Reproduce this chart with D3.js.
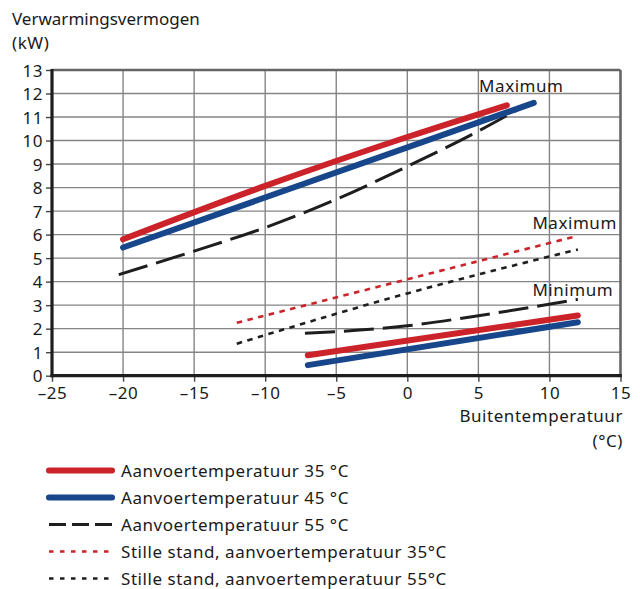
<!DOCTYPE html>
<html>
<head>
<meta charset="utf-8">
<script src="https://cdn.jsdelivr.net/npm/d3@7"></script>
<style>
  html, body { margin: 0; padding: 0; background: #fff; }
  svg text { font-family: "Noto Sans", sans-serif; fill: #1a1a1a; letter-spacing: 0.55px; }
</style>
</head>
<body>
<svg id="chart" width="640" height="589"></svg>
<script>
// ---- data ----
const xTicks = [-25, -20, -15, -10, -5, 0, 5, 10, 15];
const yTicks = [0,1,2,3,4,5,6,7,8,9,10,11,12,13];

const seriesNames = [
  "Aanvoertemperatuur 35 °C",
  "Aanvoertemperatuur 45 °C",
  "Aanvoertemperatuur 55 °C",
  "Stille stand, aanvoertemperatuur 35°C",
  "Stille stand, aanvoertemperatuur 55°C"
];

// maximum curves
const max35 = [[-20, 5.8], [-10, 8.07], [0, 10.15], [7, 11.5]];
const max45 = [[-20, 5.45], [8.9, 11.6]];
const max55 = [[-20.3, 4.3], [-15, 5.3], [-10, 6.3], [-5, 7.5], [0, 8.9], [5, 10.4], [8.3, 11.5]];
// minimum curves
const min35 = [[-7, 0.87], [12, 2.56]];
const min45 = [[-7, 0.45], [12, 2.27]];
const min55 = [[-7.2, 1.8], [0, 2.12], [5, 2.55], [12, 3.25]];
// quiet mode maximum
const quiet35 = [[-12, 2.25], [12, 5.95]];
const quiet55 = [[-12, 1.36], [0, 3.5], [12, 5.37]];

const annotations = [
  {text: "Maximum", x: 5.05, y: 12.08},
  {text: "Maximum", x: 8.8, y: 6.25},
  {text: "Minimum", x: 8.8, y: 3.4}
];

// ---- styles ----
const RED = "#cc2229", BLUE = "#17468a", BLACK = "#1e1e1e";
const FS = "17px";
const styles = [
  {color: RED,   width: 6,   dash: null,   cap: "round"},
  {color: BLUE,  width: 6,   dash: null,   cap: "round"},
  {color: BLACK, width: 3,   dash: "30,9", cap: "butt"},
  {color: RED,   width: 2.6, dash: "5.5,5.5", cap: "butt"},
  {color: BLACK, width: 2.6, dash: "5.5,5.5", cap: "butt"}
];
const legendDash = [null, null, "17,6", "4.5,6.5", "4.5,6.5"];

const svg = d3.select("#chart");
const x = d3.scaleLinear().domain([-25, 15]).range([52, 620.5]);
const y = d3.scaleLinear().domain([0, 13]).range([375.7, 70]);

// gridlines
const grid = svg.append("g");
grid.selectAll("line.h").data(yTicks.filter(d => d > 0 && d < 13)).join("line")
  .attr("x1", x(-25)).attr("x2", x(15))
  .attr("y1", d => y(d)).attr("y2", d => y(d))
  .attr("stroke", "#858585").attr("stroke-width", 1.4);
grid.selectAll("line.v").data(xTicks.filter(d => d > -25 && d < 15)).join("line")
  .attr("y1", y(0)).attr("y2", y(13))
  .attr("x1", d => x(d)).attr("x2", d => x(d))
  .attr("stroke", "#858585").attr("stroke-width", 1.4);

// top & right borders
svg.append("line").attr("x1", x(-25)).attr("x2", x(15)).attr("y1", y(13)).attr("y2", y(13))
  .attr("stroke", "#666").attr("stroke-width", 2.6);
svg.append("line").attr("x1", x(15)).attr("x2", x(15)).attr("y1", y(13)).attr("y2", y(0))
  .attr("stroke", "#666").attr("stroke-width", 2.6);

// axes
const yAxis = d3.axisLeft(y).tickValues(yTicks).tickSize(6).tickPadding(3).tickFormat(d3.format("d"));
const gy = svg.append("g").attr("transform", `translate(${x(-25)},0)`).call(yAxis);
const xAxis = d3.axisBottom(x).tickValues(xTicks).tickSize(6).tickPadding(5)
  .tickFormat(d => d < 0 ? "\u2013" + Math.abs(d) : String(d));
const gx = svg.append("g").attr("transform", `translate(0,${y(0)})`).call(xAxis);
[gx, gy].forEach(g => {
  g.select(".domain").remove();
  g.selectAll(".tick line").attr("stroke", "#444").attr("stroke-width", 1.4);
  g.selectAll(".tick text").style("font-size", FS).attr("fill", "#1a1a1a");
});
gy.selectAll(".tick text").attr("dy", "0.36em");
gx.selectAll(".tick text").attr("dy", "0.74em");

svg.append("line").attr("x1", x(-25)).attr("x2", x(-25)).attr("y1", y(13) - 1).attr("y2", y(0) + 1.5)
  .attr("stroke", "#1e1e1e").attr("stroke-width", 3.2);
svg.append("line").attr("x1", x(-25) - 1.5).attr("x2", x(15) + 1.3).attr("y1", y(0)).attr("y2", y(0))
  .attr("stroke", "#1e1e1e").attr("stroke-width", 3.2);

// series
const line = d3.line().x(d => x(d[0])).y(d => y(d[1])).curve(d3.curveMonotoneX);
const groups = [
  {data: [quiet35], s: 3},
  {data: [quiet55], s: 4},
  {data: [max55, min55], s: 2},
  {data: [max45, min45], s: 1},
  {data: [max35, min35], s: 0}
];
groups.forEach(g => {
  const st = styles[g.s];
  svg.append("g").selectAll("path").data(g.data).join("path")
    .attr("d", line)
    .attr("fill", "none")
    .attr("stroke", st.color)
    .attr("stroke-width", st.width)
    .attr("stroke-linecap", st.cap)
    .attr("stroke-dasharray", st.dash);
});

// annotations
svg.append("g").selectAll("text").data(annotations).join("text")
  .attr("x", d => x(d.x)).attr("y", d => y(d.y))
  .style("font-size", FS)
  .text(d => d.text);

// axis titles
svg.append("text").attr("x", 12).attr("y", 25).style("font-size", FS).style("letter-spacing", "0px").text("Verwarmingsvermogen");
svg.append("text").attr("x", 12).attr("y", 49).style("font-size", FS).text("(kW)");
svg.append("text").attr("x", 623).attr("y", 422).attr("text-anchor", "end").style("font-size", FS).text("Buitentemperatuur");
svg.append("text").attr("x", 623).attr("y", 447).attr("text-anchor", "end").style("font-size", FS).text("(°C)");

// legend
const legend = svg.append("g");
const rowY = d => 470.5 + d * 27;
seriesNames.forEach((name, i) => {
  const st = styles[i];
  legend.append("line")
    .attr("x1", 49).attr("x2", 112).attr("y1", rowY(i)).attr("y2", rowY(i))
    .attr("stroke", st.color).attr("stroke-width", st.width)
    .attr("stroke-linecap", st.cap).attr("stroke-dasharray", legendDash[i]);
  legend.append("text").attr("x", 121).attr("y", rowY(i)).attr("dy", "0.36em")
    .style("font-size", FS).text(name);
});
</script>
</body>
</html>
